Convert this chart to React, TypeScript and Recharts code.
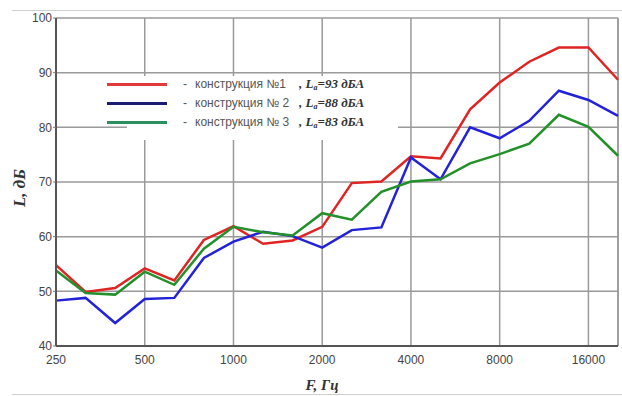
import React from "react";
import { LineChart, Line, XAxis, YAxis, CartesianGrid, ReferenceLine } from "recharts";

const frequencies = ["250", "315", "400", "500", "630", "800", "1000", "1250", "1600", "2000", "2500", "3150", "4000", "5000", "6300", "8000", "10000", "12500", "16000", "20000"];
const tickFrequencies = ["250", "500", "1000", "2000", "4000", "8000", "16000"];
const yTicks = [40, 50, 60, 70, 80, 90, 100];

const construction1 = [54.8, 49.9, 50.6, 54.2, 52.0, 59.4, 61.9, 58.7, 59.3, 61.8, 69.8, 70.1, 74.7, 74.3, 83.3, 88.2, 92.0, 94.6, 94.6, 88.7];
const construction2 = [48.3, 48.8, 44.2, 48.6, 48.8, 56.1, 59.1, 60.9, 60.1, 58.0, 61.2, 61.7, 74.5, 70.5, 80.0, 78.0, 81.2, 86.7, 85.0, 82.1];
const construction3 = [53.8, 49.7, 49.4, 53.6, 51.2, 57.8, 61.8, 60.8, 60.2, 64.3, 63.1, 68.2, 70.1, 70.5, 73.4, 75.1, 77.0, 82.3, 80.1, 74.8];

const seriesNames = ["конструкция №1", "конструкция № 2", "конструкция № 3"];
const seriesLevels = [93, 88, 83];
const seriesKeys = ["c1", "c2", "c3"];
const lineColors = ["#e02424", "#2222d8", "#23902a"];
const legendColors = ["#e03a3a", "#1c1c72", "#2a9060"];

const data = frequencies.map((f, i) => ({
  i,
  f,
  c1: construction1[i],
  c2: construction2[i],
  c3: construction3[i],
}));

const tickIdx = tickFrequencies.map((t) => frequencies.indexOf(t));

const serif = "'Liberation Serif', 'DejaVu Serif', serif";
const sans = "'Liberation Sans', Arial, sans-serif";

export default function App() {
  return (
    <div style={{ position: "absolute", left: 0, top: 0, width: 622, height: 396, background: "#fff", overflow: "hidden" }}>
      <div style={{ position: "absolute", left: 12, top: 10, width: 610, height: 1, background: "#d0d0d0" }} />
      <div style={{ position: "absolute", left: 12, top: 394, width: 610, height: 1, background: "#d0d0d0" }} />
      <LineChart width={622} height={396} data={data} margin={{ top: 18, right: 4, bottom: 0, left: 0 }}>
        <CartesianGrid stroke="#9a9a9a" strokeWidth={1.5} />
        <XAxis
          dataKey="i"
          type="number"
          domain={[0, frequencies.length - 1]}
          ticks={tickIdx}
          tickFormatter={(v: number) => frequencies[v]}
          height={50}
          tickLine={false}
          tickMargin={3}
          axisLine={{ stroke: "#555", strokeWidth: 2 }}
          tick={{ fill: "#444", fontSize: 12, fontFamily: sans }}
          interval={0}
        />
        <YAxis
          type="number"
          domain={[40, 100]}
          ticks={yTicks}
          width={56}
          tickSize={3}
          tickMargin={1}
          tickLine={{ stroke: "#777" }}
          axisLine={{ stroke: "#555", strokeWidth: 2 }}
          tick={{ fill: "#444", fontSize: 12, fontFamily: sans }}
          interval={0}
        />
        <ReferenceLine x={frequencies.length - 1} stroke="#9a9a9a" strokeWidth={1.5} />
        {seriesKeys.map((k, idx) => (
          <Line
            key={k}
            type="linear"
            dataKey={k}
            stroke={lineColors[idx]}
            strokeWidth={2.5}
            dot={false}
            isAnimationActive={false}
          />
        ))}
      </LineChart>

      {/* legend */}
      <div style={{ position: "absolute", left: 127, top: 76, width: 271, height: 64, background: "#fff" }} />
      {seriesNames.map((name, idx) => {
        const cy = 84 + idx * 19;
        return (
          <React.Fragment key={name}>
            <div style={{ position: "absolute", left: 107, top: cy - 1.5, width: 60, height: 3, background: legendColors[idx] }} />
            <span style={{ position: "absolute", left: 183, top: cy - 9, lineHeight: "18px", fontSize: 12, fontFamily: sans, color: "#555", whiteSpace: "nowrap" }}>
              -
            </span>
            <span style={{ position: "absolute", left: 195, top: cy - 9, lineHeight: "18px", fontSize: 12, fontFamily: sans, color: "#555", whiteSpace: "nowrap" }}>
              {name}
            </span>
            <span style={{ position: "absolute", left: 299, top: cy - 9, lineHeight: "18px", fontSize: 13, fontFamily: serif, fontStyle: "italic", fontWeight: "bold", color: "#333", whiteSpace: "nowrap" }}>
              , L<sub style={{ fontSize: 8, verticalAlign: "-2px" }}>а</sub>={seriesLevels[idx]} дБА
            </span>
          </React.Fragment>
        );
      })}

      {/* axis titles */}
      <div style={{ position: "absolute", left: 20, top: 188, transform: "translate(-50%, -50%) rotate(-90deg)", fontFamily: serif, fontStyle: "italic", fontWeight: "bold", fontSize: 17, color: "#333", whiteSpace: "nowrap" }}>
        L, дБ
      </div>
      <div style={{ position: "absolute", left: 322, top: 385, transform: "translate(-50%, -50%)", fontFamily: serif, fontStyle: "italic", fontWeight: "bold", fontSize: 15, color: "#333", whiteSpace: "nowrap" }}>
        F, Гц
      </div>
    </div>
  );
}
